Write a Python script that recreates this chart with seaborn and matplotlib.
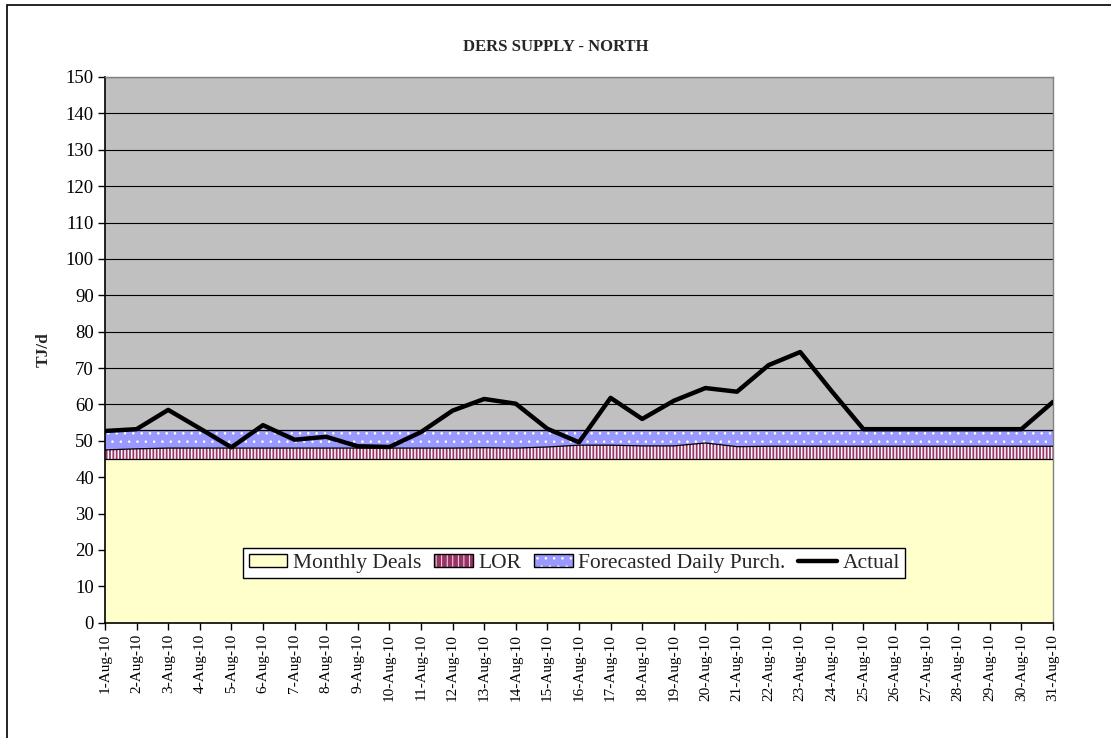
"""
DERS supply - North: stacked supply areas with the actual daily line.
"""

import pandas as pd
import numpy as np
import matplotlib
matplotlib.use("Agg")
import matplotlib.pyplot as plt
import seaborn as sns
from matplotlib.patches import Patch, Rectangle
from matplotlib.lines import Line2D
from matplotlib.legend_handler import HandlerTuple


# =====================================================
# Data
# =====================================================

day_labels = [f"{d}-Aug-10" for d in range(1, 32)]

monthly_deals = [45.0] * 31

lor_top = [47.5, 47.8, 48.0, 48.0, 48.0, 48.0, 48.0, 48.0, 48.0, 48.0,
           48.0, 48.0, 48.1, 48.0, 48.3, 48.8, 48.8, 48.6, 48.6, 49.4,
           48.4, 48.5, 48.5, 48.5, 48.5, 48.5, 48.5, 48.5, 48.5, 48.5,
           48.5]

forecast_top = [52.9] * 31

actual = [52.7, 53.2, 58.5, 53.4, 48.2, 54.3, 50.3, 51.1, 48.5, 48.3,
          52.4, 58.3, 61.5, 60.2, 53.3, 49.6, 61.8, 56.0, 61.0, 64.5,
          63.5, 70.8, 74.4, 63.6, 53.2, 53.2, 53.2, 53.2, 53.2, 53.2,
          60.7]

LOR = [t - m for t, m in zip(lor_top, monthly_deals)]
FORECAST = [f - t for f, t in zip(forecast_top, lor_top)]

df = pd.DataFrame({
    "day": np.arange(len(day_labels)),
    "label": day_labels,
    "monthly": monthly_deals,
    "lor": LOR,
    "forecast": FORECAST,
    "actual": actual,
})

# colours
C_BG = "#C0C0C0"
C_MONTHLY = "#FFFFCC"
C_LOR = "#993366"
C_FC = "#9999FF"


# =====================================================
# Plot
# =====================================================

sns.set_theme(style="white")
plt.rcParams["font.family"] = ["Liberation Serif", "DejaVu Serif"]
plt.rcParams["hatch.linewidth"] = 1.1

fig = plt.figure(figsize=(11.11, 7.38), dpi=100)
ax = fig.add_axes([0.0945, 0.1562, 0.8533, 0.7395])
ax.set_facecolor(C_BG)

x = df["day"].values
base1 = df["monthly"].values
base2 = base1 + df["lor"].values
base3 = base2 + df["forecast"].values

ax.fill_between(x, 0, base1, facecolor=C_MONTHLY, edgecolor="none",
                linewidth=0, zorder=2)
ax.fill_between(x, base1, base2, facecolor=C_LOR, edgecolor="white",
                hatch="|||||", linewidth=0, zorder=2)
plt.rcParams["hatch.linewidth"] = 0.6
ax.fill_between(x, base2, base3, facecolor=C_FC, edgecolor="white",
                hatch="..", linewidth=0, zorder=2)

for top in (base1, base2, base3):
    ax.plot(x, top, color="black", linewidth=0.9, zorder=3)

sns.lineplot(data=df, x="day", y="actual", color="black", linewidth=3.2,
             ax=ax, zorder=4, legend=False)

# axes
ax.set_xlim(0, len(day_labels) - 1)
ax.set_ylim(0, 150)
ax.set_yticks(np.arange(0, 151, 10))
ax.set_xticks(x)
ax.set_xticklabels(day_labels, rotation=90)
ax.tick_params(axis="y", labelsize=13.5, length=5, width=1, direction="out",
               left=True, pad=3, colors="black")
ax.tick_params(axis="x", labelsize=11, length=5, width=1, direction="out",
               bottom=True, pad=3, colors="black")
ax.set_xlabel("")
ax.set_ylabel("TJ/d", fontsize=12.5, fontweight="bold", labelpad=10)

ax.set_axisbelow(True)
ax.yaxis.grid(True, color="black", linewidth=0.8)
ax.xaxis.grid(False)

for side in ("top", "right"):
    ax.spines[side].set_color("#808080")
    ax.spines[side].set_linewidth(1)
for side in ("left", "bottom"):
    ax.spines[side].set_color("black")
    ax.spines[side].set_linewidth(1.2)

# legend
h_monthly = Patch(facecolor=C_MONTHLY, edgecolor="black", linewidth=1)
h_lor = (Patch(facecolor=C_LOR, edgecolor="white", hatch="|||", linewidth=0),
         Patch(fill=False, edgecolor="black", linewidth=1))
h_fc = (Patch(facecolor=C_FC, edgecolor="white", hatch="..", linewidth=0),
        Patch(fill=False, edgecolor="black", linewidth=1))
h_act = Line2D([0], [0], color="black", linewidth=3.2)

leg = ax.legend([h_monthly, h_lor, h_fc, h_act],
                ["Monthly Deals", "LOR", "Forecasted Daily Purch.", "Actual"],
                handler_map={tuple: HandlerTuple(ndivide=1, pad=0)},
                loc="center", bbox_to_anchor=(0.495, 0.109), ncol=4,
                fontsize=15.5, frameon=True, fancybox=False, framealpha=1,
                edgecolor="black", borderpad=0.25, handlelength=1.8,
                handleheight=0.6, handletextpad=0.25, columnspacing=0.6,
                borderaxespad=0)
leg.get_frame().set_linewidth(1)
leg.set_zorder(5)

# title and outer frame
fig.text(0.5, 0.936, "DERS SUPPLY - NORTH", ha="center", va="center",
         fontsize=12, fontweight="bold")
fig.patches.append(Rectangle((0.0063, -0.05), 1.2, 0.9932 + 0.05,
                             transform=fig.transFigure, fill=False,
                             edgecolor="black", linewidth=1.2))

fig.savefig("out.png", dpi=100, facecolor="white")
